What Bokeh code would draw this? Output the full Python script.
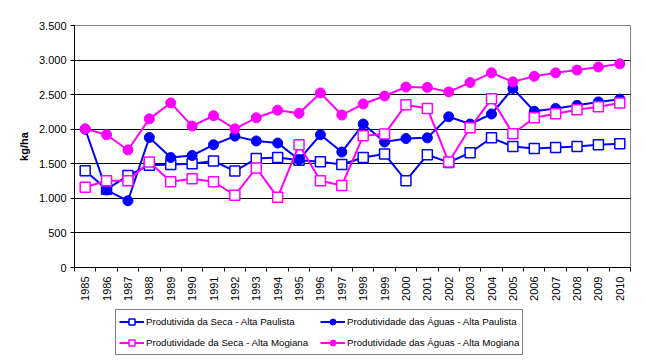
import math
from bokeh.plotting import figure
from bokeh.layouts import column
from bokeh.models import FixedTicker, Legend, LegendItem, Range1d
from bokeh.embed import file_html
from bokeh.resources import INLINE

years = ["1985", "1986", "1987", "1988", "1989", "1990", "1991", "1992", "1993",
         "1994", "1995", "1996", "1997", "1998", "1999", "2000", "2001", "2002",
         "2003", "2004", "2005", "2006", "2007", "2008", "2009", "2010"]

seca_paulista = [1400, 1130, 1330, 1480, 1490, 1500, 1540, 1395, 1575, 1590, 1550,
                 1530, 1490, 1590, 1640, 1255, 1630, 1520, 1660, 1875, 1750, 1720,
                 1735, 1750, 1775, 1790]
aguas_paulista = [2000, 1120, 965, 1880, 1590, 1620, 1775, 1900, 1830, 1800, 1560,
                  1920, 1670, 2075, 1815, 1865, 1875, 2180, 2075, 2220, 2590, 2260,
                  2300, 2345, 2395, 2435]
seca_mogiana = [1160, 1255, 1255, 1525, 1240, 1285, 1240, 1045, 1440, 1015, 1775,
                1255, 1185, 1905, 1930, 2355, 2300, 1525, 2020, 2440, 1935, 2165,
                2225, 2280, 2325, 2380]
aguas_mogiana = [2005, 1920, 1700, 2150, 2380, 2045, 2195, 2005, 2165, 2275, 2230,
                 2525, 2205, 2365, 2480, 2610, 2605, 2540, 2675, 2815, 2685, 2765,
                 2815, 2855, 2900, 2945]

y_ticks = [0, 500, 1000, 1500, 2000, 2500, 3000, 3500]
y_tick_labels = ["0", "500", "1.000", "1.500", "2.000", "2.500", "3.000", "3.500"]

names = ["Produtivida da Seca - Alta Paulista",
         "Produtividade das Águas - Alta Paulista",
         "Produtividade da Seca - Alta Mogiana",
         "Produtividade das Águas - Alta Mogiana"]

n = len(years)
xc = [i + 0.5 for i in range(n)]
bounds = list(range(n + 1))

FONT = "Liberation Sans"
BLUE = "#0000FF"
MAG = "#FF00FF"

p = figure(width=637, height=303, output_backend="svg", toolbar_location=None,
           x_range=Range1d(0, n), y_range=Range1d(0, 3500),
           min_border_left=74, min_border_right=7, min_border_top=25,
           min_border_bottom=35, background_fill_color="white",
           border_fill_color="white")

p.outline_line_color = "#808080"
p.outline_line_width = 1

# grid
p.xgrid.visible = False
p.ygrid.ticker = FixedTicker(ticks=y_ticks[1:-1])
p.ygrid.grid_line_color = "black"
p.ygrid.grid_line_width = 1

# y axis
ya = p.yaxis[0]
ya.ticker = FixedTicker(ticks=y_ticks)
ya.major_label_overrides = {t: l for t, l in zip(y_ticks, y_tick_labels)}
ya.major_tick_in = 0
ya.major_tick_out = 4
ya.minor_tick_out = 0
ya.minor_tick_in = 0
ya.major_label_standoff = 4
ya.major_label_text_font = FONT
ya.major_label_text_font_size = "11px"
ya.major_label_text_color = "black"
ya.axis_line_color = "black"
ya.major_tick_line_color = "black"
ya.axis_label = "kg/ha"
ya.axis_label_text_font = FONT
ya.axis_label_text_font_size = "11px"
ya.axis_label_text_font_style = "bold"
ya.axis_label_text_color = "black"
ya.axis_label_standoff = 6

# x axis
xa = p.xaxis[0]
xa.ticker = FixedTicker(ticks=xc, minor_ticks=bounds)
xa.major_label_overrides = {c: y for c, y in zip(xc, years)}
xa.major_tick_in = 0
xa.major_tick_out = 0
xa.minor_tick_in = 0
xa.minor_tick_out = 4
xa.minor_tick_line_color = "black"
xa.axis_line_color = "black"
xa.major_label_orientation = math.pi / 2
xa.major_label_standoff = 5
xa.major_label_text_font = FONT
xa.major_label_text_font_size = "11px"
xa.major_label_text_color = "black"

series = [
    (seca_paulista, BLUE, "square", "white"),
    (aguas_paulista, BLUE, "circle", BLUE),
    (seca_mogiana, MAG, "square", "white"),
    (aguas_mogiana, MAG, "circle", MAG),
]

# legend figure below the chart
lg = figure(width=637, height=52, output_backend="svg", toolbar_location=None,
            x_range=Range1d(0, 1), y_range=Range1d(0, 1),
            x_axis_location=None, y_axis_location=None,
            min_border_left=0, min_border_right=0, min_border_top=0,
            min_border_bottom=0, background_fill_color="white",
            border_fill_color="white", outline_line_color=None)
lg.grid.visible = False

items = []
for (vals, col, marker, fill), name in zip(series, names):
    p.line(xc, vals, line_color=col, line_width=2)
    kw = dict(line_color=col, fill_color=fill, size=10)
    if marker == "square":
        p.scatter(xc, vals, marker="square", line_width=1.5, **kw)
    else:
        p.scatter(xc, vals, marker="circle", line_width=1, **kw)
    # legend samples (placed outside the visible range of the legend figure)
    ln = lg.line([-5, -4], [-5, -5], line_color=col, line_width=2)
    sc = lg.scatter([-5], [-5], marker=marker,
                    line_width=1.5 if marker == "square" else 1, **kw)
    items.append(LegendItem(label=name, renderers=[ln, sc]))

# column-major order: left column = Seca, right column = Águas
ordered = [items[0], items[2], items[1], items[3]]

legend = Legend(items=ordered, ncols=2, location=(41, 0),
                border_line_color="black", border_line_width=1,
                background_fill_color="white", background_fill_alpha=1,
                label_text_font=FONT, label_text_font_size="9.7px",
                label_text_color="black",
                glyph_width=25, glyph_height=15, label_standoff=2,
                label_height=17, label_width=170, padding=3, spacing=4,
                margin=0)
lg.add_layout(legend, "center")

layout = column(p, lg, spacing=0)
open("out.html", "w").write(file_html(layout, INLINE))
